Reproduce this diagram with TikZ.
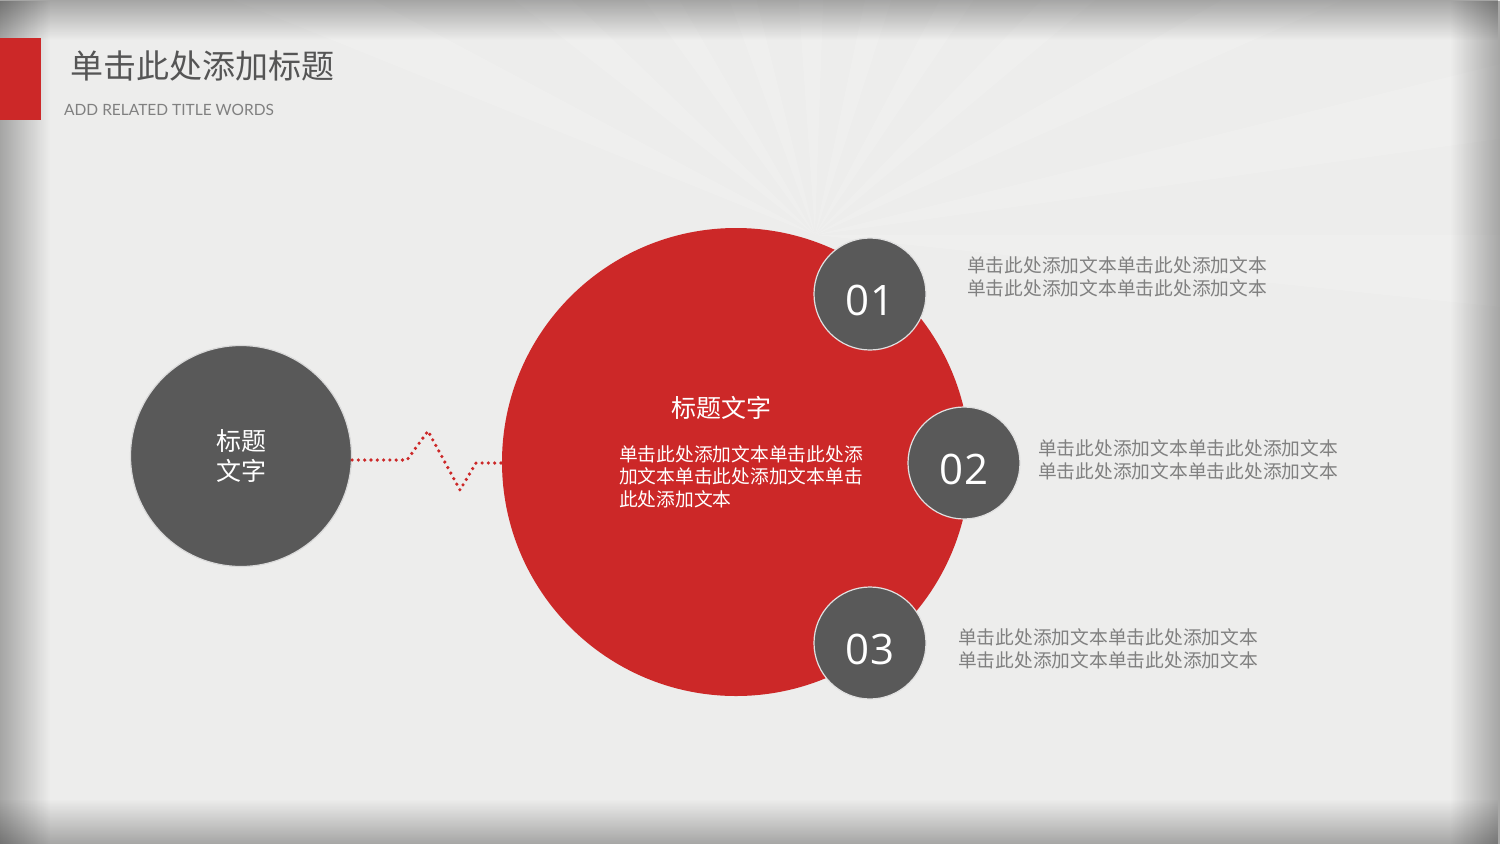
\documentclass[tikz,border=0pt]{standalone}
\usepackage{fontspec}
\setmainfont{Noto Sans CJK SC}
\newfontfamily\latofont{Lato}
\newfontfamily\digitfont{Open Sans}
\usetikzlibrary{positioning,fadings}

\definecolor{slidered}{RGB}{204,40,40}
\definecolor{discgrey}{RGB}{89,89,89}
\definecolor{notegrey}{RGB}{128,128,128}
\definecolor{titlegrey}{RGB}{85,85,85}
\definecolor{paper}{RGB}{237,237,236}

\tikzfading[name=fade right, left color=transparent!0, right color=transparent!100]
\tikzfading[name=fade left, left color=transparent!100, right color=transparent!0]
\tikzfading[name=fade down, top color=transparent!0, bottom color=transparent!100]
\tikzfading[name=fade up, top color=transparent!100, bottom color=transparent!0]

\tikzset{
  numdisc/.style={circle, fill=discgrey, draw=white!88!black, line width=1.2pt,
    minimum size=112pt, inner sep=0pt, text=white, text height=42pt, text depth=0pt,
    font=\digitfont\fontsize{42}{42}\selectfont},
  topicdisc/.style={circle, fill=discgrey, draw=white!85!black, line width=1.2pt,
    minimum size=221pt, inner sep=0pt, text=white, align=center,
    font=\fontsize{25}{30}\selectfont},
  coredisc/.style={circle, fill=slidered, minimum size=468pt, inner sep=0pt},
  notetext/.style={anchor=west, inner sep=0pt, align=left, text=notegrey,
    font=\fontsize{18.75}{23}\selectfont},
  dotline/.style={slidered, line width=3.6pt, line cap=round, dash pattern=on 0pt off 6.3pt},
  vignette/.style={black, opacity=0.3}
}

\begin{document}
\begin{tikzpicture}[x=1pt, y=-1pt]
	\useasboundingbox (0,0) rectangle (1500,844);
	\clip (0,0) rectangle (1500,844);

	%Background with faint rays and darker edges
	\fill[paper] (0,0) rectangle (1500,844);
	\coordinate (ray) at (815,235);
	\foreach \a in {-8,-24,-40,-56,-72,-88,-104,-120,-136,-152,6}
	    \fill[white, opacity=0.15] (ray) -- +(\a:1500) -- +(\a-6:1500) -- cycle;
	\fill[vignette, path fading=fade right] (0,0) rectangle (50,844);
	\fill[vignette, path fading=fade left] (1450,0) rectangle (1500,844);
	\fill[vignette, path fading=fade down] (0,0) rectangle (1500,40);
	\fill[vignette, path fading=fade up] (0,799) rectangle (1500,844);

	%Title block
	\fill[slidered] (0,38) rectangle (41,120);
	\node[anchor=west, inner sep=0pt, text=titlegrey, font=\fontsize{33}{33}\selectfont] (title) at (70,66) {单击此处添加标题};
	\node[anchor=west, inner sep=0pt, text=notegrey, font=\latofont\fontsize{15.5}{15.5}\selectfont] (subtitle) at (64,110) {ADD RELATED TITLE WORDS};

	%Circles
	\node[topicdisc] (topic) at (241,456) {标题\\文字};
	\node[coredisc] (core) at (736,462) {};
	\node[numdisc] (n1) at (870,294) {01};
	\node[numdisc] (n2) at (964,463) {02};
	\node[numdisc] (n3) at (870,643) {03};

	%Text inside the red circle
	\node[text=white, inner sep=0pt, font=\fontsize{25}{25}\selectfont] (coretitle) at (721,408) {标题文字};
	\node[anchor=north west, inner sep=0pt, align=left, text=white, font=\fontsize{18.75}{22.5}\selectfont] (corebody) at (619,445)
	    {单击此处添加文本单击此处添\\加文本单击此处添加文本单击\\此处添加文本};

	%Notes beside the numbers
	\node[notetext] (note1) at (967,276.5) {单击此处添加文本单击此处添加文本\\单击此处添加文本单击此处添加文本};
	\node[notetext] (note2) at (1038,459.5) {单击此处添加文本单击此处添加文本\\单击此处添加文本单击此处添加文本};
	\node[notetext] (note3) at (958,648.5) {单击此处添加文本单击此处添加文本\\单击此处添加文本单击此处添加文本};

	%Dotted zigzag link
	\coordinate (z1) at (407,460);
	\coordinate (z2) at (428,431);
	\coordinate (z3) at (460,490);
	\coordinate (z4) at (476,463);
	\draw[dotline] (topic.east |- z1) -- (z1) -- (z2) -- (z3) -- (z4) -- (core.west |- z4);

\end{tikzpicture}
\end{document}
